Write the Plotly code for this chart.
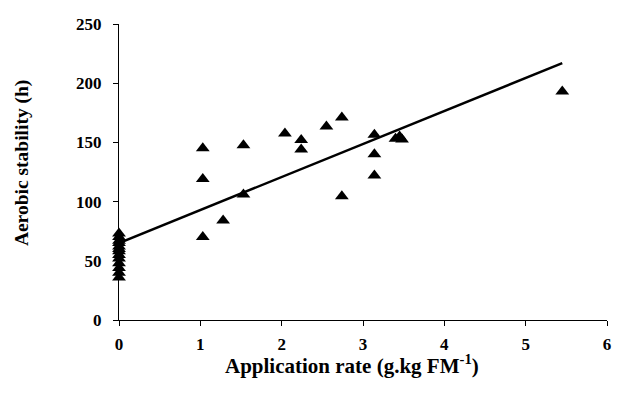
import plotly.graph_objects as go

# Observed data points
rate = [0, 0, 0, 0, 0, 0, 0, 0, 0, 0, 0, 0, 0,
        1.03, 1.03, 1.03, 1.28, 1.53, 1.53,
        2.04, 2.24, 2.24, 2.55, 2.74, 2.74,
        3.14, 3.14, 3.14, 3.4, 3.45, 3.48, 5.45]
stability = [36, 40, 44, 48, 52, 55, 58, 60, 62, 65, 67, 70, 73,
             145, 119, 70, 84, 147.5, 106,
             157.5, 152, 144, 163.5, 171, 104.5,
             156.5, 140, 122, 153, 155, 152.5, 193]

# Regression line endpoints
fit_x = [0, 5.45]
fit_y = [65, 217]

x_ticks = [0, 1, 2, 3, 4, 5, 6]
y_ticks = [0, 50, 100, 150, 200, 250]

x_title = "<b>Application rate (g.kg FM<sup>-1</sup>)</b>"
y_title = "<b>Aerobic stability (h)</b>"

font_family = "Liberation Serif"

fig = go.Figure()
fig.add_trace(go.Scatter(x=fit_x, y=fit_y, mode="lines",
                         line=dict(color="black", width=2.5),
                         showlegend=False, cliponaxis=False))
fig.add_trace(go.Scatter(x=rate, y=stability, mode="markers",
                         marker=dict(symbol="triangle-up", size=12, color="black"),
                         showlegend=False, cliponaxis=False))

axis_common = dict(showgrid=False, zeroline=False, showline=True, linecolor="black",
                   linewidth=1, ticks="outside", ticklen=5, tickcolor="black",
                   automargin=False,
                   tickfont=dict(family=font_family, size=17, color="black", weight="bold"))

# page body adds an 8px offset, margins compensate
fig.update_layout(
    width=620, height=396,
    margin=dict(l=111, r=21, t=16, b=84),
    paper_bgcolor="white", plot_bgcolor="white",
    font=dict(family=font_family, color="black"),
    xaxis=dict(range=[0, 6], tickvals=x_ticks, ticktext=[str(v) for v in x_ticks],
               ticklabelstandoff=4, **axis_common),
    yaxis=dict(range=[0, 250], tickvals=y_ticks, ticktext=[str(v) for v in y_ticks],
               ticklabelstandoff=8, **axis_common),
    annotations=[
        dict(text=x_title, xref="paper", yref="paper", x=0.477, y=-0.152,
             xanchor="center", yanchor="middle", showarrow=False,
             font=dict(family=font_family, size=21, color="black")),
        dict(text=y_title, xref="paper", yref="paper", x=(22 - 119) / 488, y=0.53,
             xanchor="center", yanchor="middle", showarrow=False, textangle=-90,
             font=dict(family=font_family, size=19.5, color="black")),
    ],
)

fig.write_html("out.html")
